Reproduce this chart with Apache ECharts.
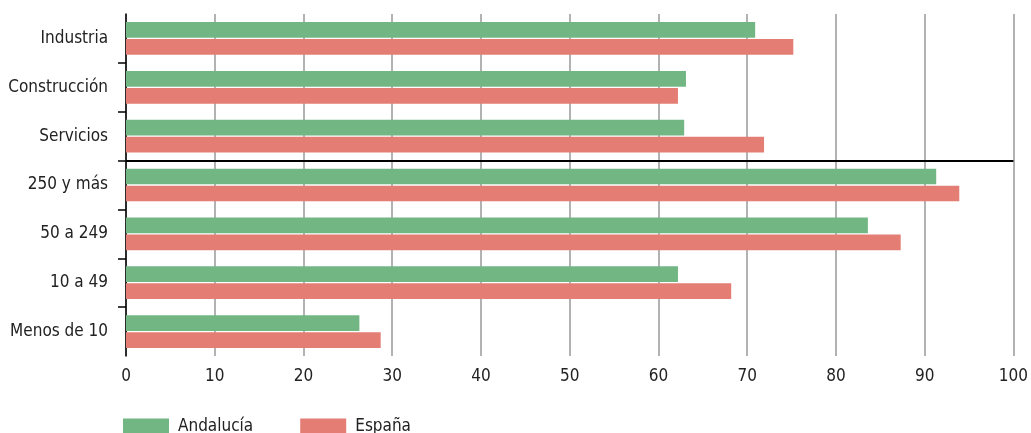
<!DOCTYPE html>
<html>
<head>
<meta charset="utf-8">
<script src="https://cdn.jsdelivr.net/npm/echarts@6/dist/echarts.min.js"></script>
<style>
  html, body { margin: 0; padding: 0; background: #fff; }
  #chart { width: 1031px; height: 433px; }
</style>
</head>
<body>
<div id="chart"></div>
<script>
// Categorías de arriba a abajo
const categories = ['Industria', 'Construcción', 'Servicios', '250 y más', '50 a 249', '10 a 49', 'Menos de 10'];
const andalucia = [70.9, 63.1, 62.9, 91.3, 83.6, 62.2, 26.3];
const espana = [75.2, 62.2, 71.9, 93.9, 87.3, 68.2, 28.7];
const xTicks = [0, 10, 20, 30, 40, 50, 60, 70, 80, 90, 100];
// línea entre sectores y tamaños de empresa: tras las 3 primeras categorías
const separatorAfter = 3;
// marcas del eje Y solo en los bordes interiores entre categorías
const bandBorders = categories.slice(1).map((_, i) => i + 1);

const FONT = '"DejaVu Sans Condensed", "DejaVu Sans", sans-serif';
const GREEN = '#72b684';
const RED = '#e47e74';
const label = { fontFamily: FONT, fontSize: 17, color: '#222' };

const chart = echarts.init(document.getElementById('chart'));

chart.setOption({
  animation: false,
  grid: { left: 126, right: 15, top: 14, bottom: 77 },
  legend: {
    left: 118,
    top: 413,
    itemWidth: 46,
    itemHeight: 16,
    itemGap: 47,
    icon: 'rect',
    textStyle: Object.assign({}, label, { padding: [0, 0, 0, 4] }),
    data: ['Andalucía', 'España'],
  },
  xAxis: {
    type: 'value',
    min: xTicks[0],
    max: xTicks[xTicks.length - 1],
    interval: 10,
    axisLine: { show: false },
    axisTick: { show: false },
    axisLabel: Object.assign({}, label, { margin: 12 }),
    splitLine: { lineStyle: { color: '#999', width: 1.5 } },
  },
  yAxis: [
    {
      type: 'category',
      inverse: true,
      data: categories,
      axisLine: { lineStyle: { color: '#000', width: 1.5 } },
      axisTick: { show: false },
      axisLabel: Object.assign({}, label, { margin: 18 }),
      splitLine: { show: false },
    },
    {
      // eje auxiliar: marcas entre categorías y línea separadora
      type: 'value',
      position: 'left',
      inverse: true,
      min: 0,
      max: categories.length,
      axisLine: { show: false },
      axisLabel: { show: false },
      splitLine: { show: false },
      axisTick: {
        show: true,
        length: 8,
        customValues: bandBorders,
        lineStyle: { color: '#000', width: 1.5 },
      },
    },
  ],
  series: [
    {
      name: 'Andalucía',
      type: 'bar',
      data: andalucia,
      itemStyle: { color: GREEN },
      barGap: '8%',
      barCategoryGap: '33%',
    },
    {
      name: 'España',
      type: 'bar',
      data: espana,
      itemStyle: { color: RED },
      barGap: '8%',
      barCategoryGap: '33%',
    },
    {
      name: 'separador',
      type: 'line',
      yAxisIndex: 1,
      data: [],
      markLine: {
        silent: true,
        symbol: 'none',
        label: { show: false },
        lineStyle: { color: '#000', width: 2, type: 'solid' },
        data: [{ yAxis: separatorAfter }],
      },
    },
  ],
});
</script>
</body>
</html>
